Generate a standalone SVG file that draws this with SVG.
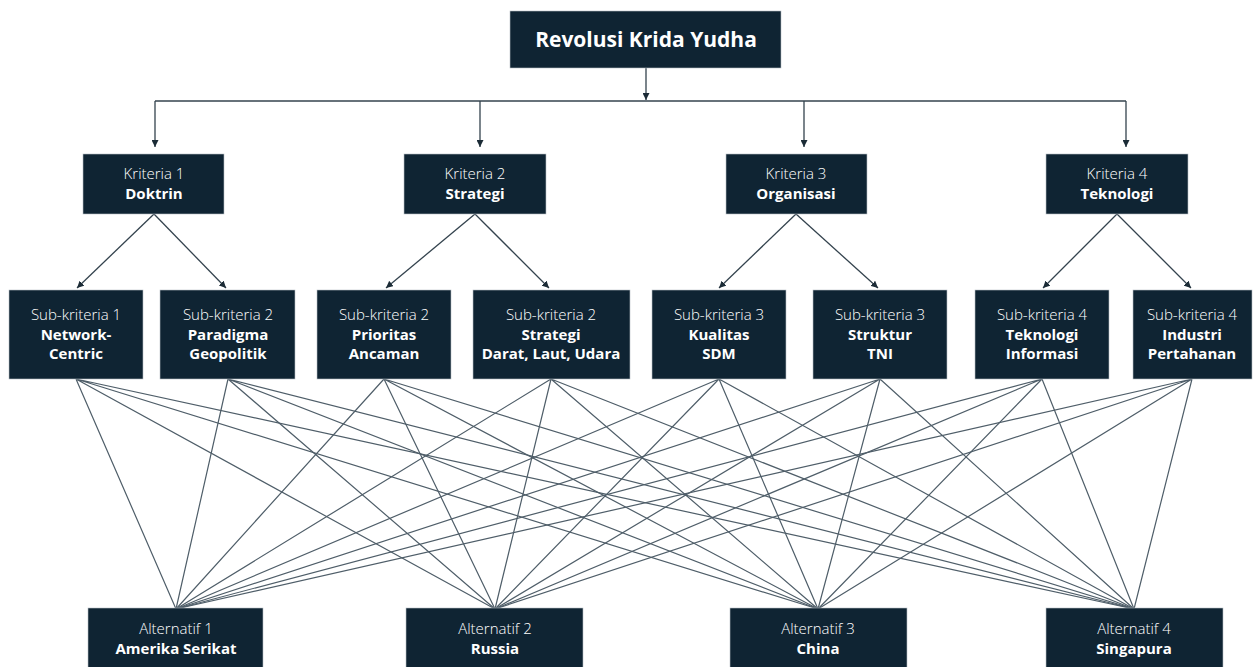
<svg xmlns="http://www.w3.org/2000/svg" width="1257" height="667" viewBox="0 0 1257 667">
<defs>
<style>
.box{fill:#0f2433;stroke:#b8c0c6;stroke-width:0.6}
.t{font-family:"Open Sans","Liberation Sans",sans-serif;font-size:15px;fill:#ffffff;text-anchor:middle}
.l{font-weight:300}
.b{font-weight:700}
.title{font-family:"Open Sans","Liberation Sans",sans-serif;font-size:21px;font-weight:700;fill:#ffffff;text-anchor:middle}
.arr{stroke:#34434e;stroke-width:1.3;fill:none}
.mesh{stroke:#4f5e69;stroke-width:1.2;fill:none}
</style>
<marker id="ah" viewBox="0 0 10 10" refX="10" refY="5" markerWidth="7" markerHeight="7" markerUnits="userSpaceOnUse" orient="auto">
<path d="M0,0 L10,5 L0,10 z" fill="#1b2b36"/>
</marker>
</defs>
<rect width="1257" height="667" fill="#ffffff"/>
<g id="connectors">
<path class="arr" d="M646,68 V100" marker-end="url(#ah)"/>
<path class="arr" d="M155,101 H1126"/>
<path class="arr" d="M155,101 V147" marker-end="url(#ah)"/>
<path class="arr" d="M480,101 V147" marker-end="url(#ah)"/>
<path class="arr" d="M804,101 V147" marker-end="url(#ah)"/>
<path class="arr" d="M1126,101 V147" marker-end="url(#ah)"/>
<path class="arr" d="M154,214 L77,288" marker-end="url(#ah)"/>
<path class="arr" d="M154,214 L226,288" marker-end="url(#ah)"/>
<path class="arr" d="M475,214 L386,288" marker-end="url(#ah)"/>
<path class="arr" d="M475,214 L549,288" marker-end="url(#ah)"/>
<path class="arr" d="M796,214 L719,288" marker-end="url(#ah)"/>
<path class="arr" d="M796,214 L878,288" marker-end="url(#ah)"/>
<path class="arr" d="M1117,214 L1043,288" marker-end="url(#ah)"/>
<path class="arr" d="M1117,214 L1191,288" marker-end="url(#ah)"/>
<g class="mesh">
<path d="M76,379 L176,609 M76,379 L495,609 M76,379 L818,609 M76,379 L1134,609"/>
<path d="M228,379 L176,609 M228,379 L495,609 M228,379 L818,609 M228,379 L1134,609"/>
<path d="M384,379 L176,609 M384,379 L495,609 M384,379 L818,609 M384,379 L1134,609"/>
<path d="M551,379 L176,609 M551,379 L495,609 M551,379 L818,609 M551,379 L1134,609"/>
<path d="M719,379 L176,609 M719,379 L495,609 M719,379 L818,609 M719,379 L1134,609"/>
<path d="M880,379 L176,609 M880,379 L495,609 M880,379 L818,609 M880,379 L1134,609"/>
<path d="M1042,379 L176,609 M1042,379 L495,609 M1042,379 L818,609 M1042,379 L1134,609"/>
<path d="M1192,379 L176,609 M1192,379 L495,609 M1192,379 L818,609 M1192,379 L1134,609"/>
</g>
</g>
<g id="goal">
<rect class="box" x="510" y="11" width="271" height="57"/>
<text class="title" x="646" y="47">Revolusi Krida Yudha</text>
</g>
<g id="k1">
<rect class="box" x="83" y="154" width="141" height="60"/>
<text class="t"><tspan class="l" x="154" y="179">Kriteria 1</tspan><tspan class="b" x="154" y="199">Doktrin</tspan></text>
</g>
<g id="k2">
<rect class="box" x="404" y="154" width="142" height="60"/>
<text class="t"><tspan class="l" x="475" y="179">Kriteria 2</tspan><tspan class="b" x="475" y="199">Strategi</tspan></text>
</g>
<g id="k3">
<rect class="box" x="726" y="154" width="141" height="60"/>
<text class="t"><tspan class="l" x="796" y="179">Kriteria 3</tspan><tspan class="b" x="796" y="199">Organisasi</tspan></text>
</g>
<g id="k4">
<rect class="box" x="1046" y="154" width="142" height="60"/>
<text class="t"><tspan class="l" x="1117" y="179">Kriteria 4</tspan><tspan class="b" x="1117" y="199">Teknologi</tspan></text>
</g>
<g id="sk1">
<rect class="box" x="9" y="290" width="134" height="89"/>
<text class="t"><tspan class="l" x="76" y="320">Sub-kriteria 1</tspan><tspan class="b" x="76" y="340">Network-</tspan><tspan class="b" x="76" y="359">Centric</tspan></text>
</g>
<g id="sk2">
<rect class="box" x="160" y="290" width="135" height="89"/>
<text class="t"><tspan class="l" x="228" y="320">Sub-kriteria 2</tspan><tspan class="b" x="228" y="340">Paradigma</tspan><tspan class="b" x="228" y="359">Geopolitik</tspan></text>
</g>
<g id="sk3">
<rect class="box" x="317" y="290" width="134" height="89"/>
<text class="t"><tspan class="l" x="384" y="320">Sub-kriteria 2</tspan><tspan class="b" x="384" y="340">Prioritas</tspan><tspan class="b" x="384" y="359">Ancaman</tspan></text>
</g>
<g id="sk4">
<rect class="box" x="473" y="290" width="157" height="89"/>
<text class="t"><tspan class="l" x="551" y="320">Sub-kriteria 2</tspan><tspan class="b" x="551" y="340">Strategi</tspan><tspan class="b" x="551" y="359">Darat, Laut, Udara</tspan></text>
</g>
<g id="sk5">
<rect class="box" x="652" y="290" width="134" height="89"/>
<text class="t"><tspan class="l" x="719" y="320">Sub-kriteria 3</tspan><tspan class="b" x="719" y="340">Kualitas</tspan><tspan class="b" x="719" y="359">SDM</tspan></text>
</g>
<g id="sk6">
<rect class="box" x="813" y="290" width="134" height="89"/>
<text class="t"><tspan class="l" x="880" y="320">Sub-kriteria 3</tspan><tspan class="b" x="880" y="340">Struktur</tspan><tspan class="b" x="880" y="359">TNI</tspan></text>
</g>
<g id="sk7">
<rect class="box" x="975" y="290" width="134" height="89"/>
<text class="t"><tspan class="l" x="1042" y="320">Sub-kriteria 4</tspan><tspan class="b" x="1042" y="340">Teknologi</tspan><tspan class="b" x="1042" y="359">Informasi</tspan></text>
</g>
<g id="sk8">
<rect class="box" x="1133" y="290" width="119" height="89"/>
<text class="t"><tspan class="l" x="1192" y="320">Sub-kriteria 4</tspan><tspan class="b" x="1192" y="340">Industri</tspan><tspan class="b" x="1192" y="359">Pertahanan</tspan></text>
</g>
<g id="a1">
<rect class="box" x="88" y="608" width="175" height="62"/>
<text class="t"><tspan class="l" x="176" y="634">Alternatif 1</tspan><tspan class="b" x="176" y="654">Amerika Serikat</tspan></text>
</g>
<g id="a2">
<rect class="box" x="406" y="608" width="177" height="62"/>
<text class="t"><tspan class="l" x="495" y="634">Alternatif 2</tspan><tspan class="b" x="495" y="654">Russia</tspan></text>
</g>
<g id="a3">
<rect class="box" x="730" y="608" width="177" height="62"/>
<text class="t"><tspan class="l" x="818" y="634">Alternatif 3</tspan><tspan class="b" x="818" y="654">China</tspan></text>
</g>
<g id="a4">
<rect class="box" x="1046" y="608" width="177" height="62"/>
<text class="t"><tspan class="l" x="1134" y="634">Alternatif 4</tspan><tspan class="b" x="1134" y="654">Singapura</tspan></text>
</g>
</svg>
